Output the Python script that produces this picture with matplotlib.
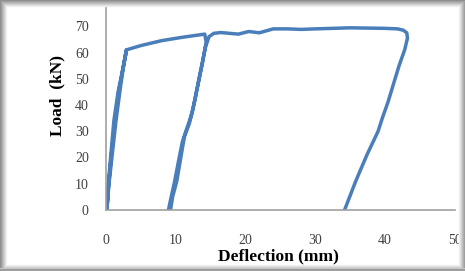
import matplotlib
matplotlib.use('Agg')
import matplotlib.pyplot as plt
from matplotlib.patches import Rectangle

# deflection (mm) / load (kN)
deflection = [0.2, 0.5, 1.0, 1.5, 2.2, 2.6, 3.0,
              2.5, 1.8, 1.2, 0.8, 0.4, 0.2,
              0.4, 0.8, 1.2, 1.9, 2.5, 3.0,
              5.0, 8.0, 11.0, 14.2,
              14.4, 13.8, 13.0, 12.4, 11.5, 11.0, 10.4, 9.9, 9.4, 9.0,
              9.3, 9.6, 10.2, 10.9, 11.3, 12.0, 12.8, 13.6, 14.3, 14.8,
              15.5, 16.5, 19.0, 20.5, 22.0, 24.0, 26.0, 28.0, 30.0, 35.0, 40.0,
              41.8, 42.6, 43.1, 43.2, 42.8, 42.0, 41.2, 40.4, 39.6, 39.0,
              38.2, 37.4, 36.6, 35.8, 35.0, 34.2]
load = [0.0, 10.0, 22.0, 34.0, 48.0, 55.0, 61.0,
        54.0, 45.0, 34.0, 22.0, 10.0, 0.0,
        8.0, 20.0, 30.0, 45.0, 54.0, 61.0,
        62.6, 64.5, 65.8, 67.0,
        64.0, 55.0, 45.0, 37.0, 30.0, 26.0, 18.0, 11.0, 5.0, 0.0,
        0.0, 5.0, 11.0, 22.0, 28.0, 33.0, 42.0, 53.0, 62.0, 66.0,
        67.3, 67.6, 67.0, 68.0, 67.5, 69.0, 69.0, 68.8, 69.0, 69.4, 69.2,
        69.0, 68.5, 67.5, 65.5, 61.0, 55.0, 48.0, 41.0, 35.0, 30.0,
        25.5, 21.0, 16.0, 11.0, 5.5, 0.0]

x_ticks = [0, 10, 20, 30, 40, 50]
y_ticks = [0, 10, 20, 30, 40, 50, 60, 70, 80]

W, H = 465, 271
fig = plt.figure(figsize=(W / 100, H / 100), dpi=100)
ax = fig.add_axes([105.5 / W, 1 - 210 / H, (455 - 105.5) / W, 210 / H])

ax.plot(deflection, load, color='#4a7ebb', lw=2.5, solid_joinstyle='round')
ax.set_xlim(0, 50)
ax.set_ylim(0, 80)
ax.set_xticks(x_ticks)
ax.set_yticks(y_ticks)

for s in ['top', 'right']:
    ax.spines[s].set_visible(False)
for s in ['left', 'bottom']:
    ax.spines[s].set_color('#a0a0a0')
    ax.spines[s].set_linewidth(1.2)
ax.tick_params(length=0, labelsize=10, labelcolor='#404040')
ax.tick_params(axis='x', pad=17)
ax.tick_params(axis='y', pad=12)
for lab in ax.get_xticklabels() + ax.get_yticklabels():
    lab.set_family('Liberation Serif')

fig.text(278 / W, 1 - 256.5 / H, 'Deflection (mm)', ha='center', va='center',
         family='Liberation Serif', fontweight='bold', fontsize=12.5)
fig.text(57 / W, 1 - 96 / H, 'Load  (kN)', ha='center', va='center', rotation=90,
         family='Liberation Serif', fontweight='bold', fontsize=12.5)

# soft grey picture frame, a bit heavier along the bottom
for i in range(7):
    g = 0.55 + 0.45 * i / 7
    fig.patches.append(Rectangle((i / W, i / H), 1 - 2 * i / W, 1 - 2 * i / H,
                                 transform=fig.transFigure, fill=False,
                                 edgecolor=(g, g, g), lw=0.9, zorder=10))
for i in range(2):
    g = 0.62 + 0.15 * i
    fig.patches.append(Rectangle((0, (i + 1) / H), 1, 1 / H,
                                 transform=fig.transFigure, color=(g, g, g),
                                 lw=0, zorder=10))

fig.savefig('out.png', dpi=100)
